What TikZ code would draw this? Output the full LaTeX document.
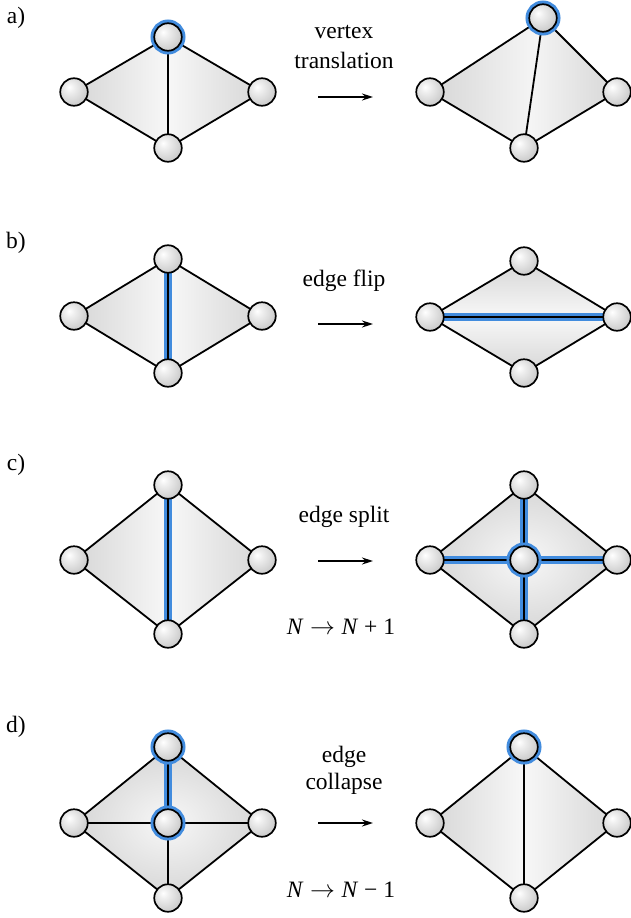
\documentclass[tikz,border=0pt]{standalone}
\usepackage{fontspec}
\setmainfont{Liberation Serif}
\usetikzlibrary{arrows.meta}
\definecolor{hblue}{RGB}{66,140,222}
\colorlet{gdark}{black!16}
\colorlet{glight}{black!3}
\pgfdeclareradialshading{vball}{\pgfpoint{-9bp}{9bp}}{color(0bp)=(white); color(8bp)=(black!6); color(30bp)=(black!20); color(50bp)=(black!30); color(80bp)=(black!34)}
\tikzset{
  vtx/.style={circle, minimum size=27.5pt, inner sep=0pt, draw=black, line width=1.7pt, shading=vball},
  hvtx/.style={vtx, preaction={draw=hblue, line width=7.5pt}},
  edge/.style={draw=black, line width=1.8pt, line cap=round, line join=round},
  hedge/.style={draw=black, line width=2.2pt, preaction={draw=hblue, line width=7.5pt}},
  lbl/.style={font=\fontsize{23.5}{27}\selectfont, inner sep=0pt},
  arr/.style={-{Stealth[length=11pt,width=7pt]}, line width=1.6pt},
}
\begin{document}
\begin{tikzpicture}[x=1pt,y=-1pt]
\useasboundingbox (0,0) rectangle (631,918);
% ---------- panel a ----------
\node[lbl] (la) at (16,18) {a)};
\coordinate (aLt) at (168,37); \coordinate (aLl) at (74,92); \coordinate (aLr) at (262,92); \coordinate (aLb) at (168,148);
\shade[left color=gdark, right color=gdark, middle color=glight] (aLt) -- (aLr) -- (aLb) -- (aLl) -- cycle;
\draw[edge] (aLt) -- (aLr) -- (aLb) -- (aLl) -- cycle (aLt) -- (aLb);
\node[hvtx] (naLt) at (aLt) {}; \node[vtx] (naLl) at (aLl) {}; \node[vtx] (naLr) at (aLr) {}; \node[vtx] (naLb) at (aLb) {};
\coordinate (aRt) at (543,18); \coordinate (aRl) at (430,92); \coordinate (aRr) at (617,92); \coordinate (aRb) at (524,148);
\shade[left color=gdark, right color=glight] (aRt) -- (aRb) -- (aRl) -- cycle;
\shade[left color=glight, right color=gdark] (aRt) -- (aRr) -- (aRb) -- cycle;
\draw[edge] (aRt) -- (aRr) -- (aRb) -- (aRl) -- cycle (aRt) -- (aRb);
\node[hvtx] (naRt) at (aRt) {}; \node[vtx] (naRl) at (aRl) {}; \node[vtx] (naRr) at (aRr) {}; \node[vtx] (naRb) at (aRb) {};
\node[lbl] (ta1) at (344,32) {vertex};
\node[lbl] (ta2) at (344,60) {translation};
\coordinate (aA1) at (318,97); \coordinate (aA2) at (373,97);
\draw[arr] (aA1) -- (aA2);
% ---------- panel b ----------
\node[lbl] (lb) at (16,243) {b)};
\coordinate (bLt) at (168,259); \coordinate (bLl) at (74,316); \coordinate (bLr) at (262,316); \coordinate (bLb) at (168,373);
\shade[left color=gdark, right color=gdark, middle color=glight] (bLt) -- (bLr) -- (bLb) -- (bLl) -- cycle;
\draw[edge] (bLt) -- (bLr) -- (bLb) -- (bLl) -- cycle;
\draw[hedge] (bLt) -- (bLb);
\node[vtx] (nbLt) at (bLt) {}; \node[vtx] (nbLl) at (bLl) {}; \node[vtx] (nbLr) at (bLr) {}; \node[vtx] (nbLb) at (bLb) {};
\coordinate (bRt) at (524,261); \coordinate (bRl) at (430,317); \coordinate (bRr) at (617,317); \coordinate (bRb) at (524,373);
\shade[top color=gdark, bottom color=gdark, middle color=glight] (bRt) -- (bRr) -- (bRb) -- (bRl) -- cycle;
\draw[edge] (bRt) -- (bRr) -- (bRb) -- (bRl) -- cycle;
\draw[hedge] (bRl) -- (bRr);
\node[vtx] (nbRt) at (bRt) {}; \node[vtx] (nbRl) at (bRl) {}; \node[vtx] (nbRr) at (bRr) {}; \node[vtx] (nbRb) at (bRb) {};
\node[lbl] (tb1) at (344,281) {edge flip};
\coordinate (bA1) at (318,324); \coordinate (bA2) at (373,324);
\draw[arr] (bA1) -- (bA2);
% ---------- panel c ----------
\node[lbl] (lc) at (16,465) {c)};
\coordinate (cLt) at (168,485); \coordinate (cLl) at (74,560); \coordinate (cLr) at (262,560); \coordinate (cLb) at (168,634);
\shade[left color=gdark, right color=gdark, middle color=glight] (cLt) -- (cLr) -- (cLb) -- (cLl) -- cycle;
\draw[edge] (cLt) -- (cLr) -- (cLb) -- (cLl) -- cycle;
\draw[hedge] (cLt) -- (cLb);
\node[vtx] (ncLt) at (cLt) {}; \node[vtx] (ncLl) at (cLl) {}; \node[vtx] (ncLr) at (cLr) {}; \node[vtx] (ncLb) at (cLb) {};
\coordinate (cRt) at (524,485); \coordinate (cRl) at (430,560); \coordinate (cRr) at (617,560); \coordinate (cRb) at (524,634); \coordinate (cRc) at (524,560);
\shade[inner color=glight, outer color=gdark] (cRt) -- (cRr) -- (cRb) -- (cRl) -- cycle;
\draw[edge] (cRt) -- (cRr) -- (cRb) -- (cRl) -- cycle;
\draw[hedge] (cRt) -- (cRb);
\draw[hedge] (cRl) -- (cRr);
\node[vtx] (ncRt) at (cRt) {}; \node[vtx] (ncRl) at (cRl) {}; \node[vtx] (ncRr) at (cRr) {}; \node[vtx] (ncRb) at (cRb) {};
\node[hvtx] (ncRc) at (cRc) {};
\node[lbl] (tc1) at (344,517) {edge split};
\coordinate (cA1) at (318,561); \coordinate (cA2) at (373,561);
\draw[arr] (cA1) -- (cA2);
\node[lbl] (tc2) at (341,627) {\textit{N}\;$\rightarrow$\;\textit{N} + 1};
% ---------- panel d ----------
\node[lbl] (ld) at (16,727) {d)};
\coordinate (dLt) at (168,747); \coordinate (dLl) at (74,823); \coordinate (dLr) at (262,823); \coordinate (dLb) at (168,898); \coordinate (dLc) at (168,823);
\shade[inner color=glight, outer color=gdark] (dLt) -- (dLr) -- (dLb) -- (dLl) -- cycle;
\draw[edge] (dLt) -- (dLr) -- (dLb) -- (dLl) -- cycle (dLl) -- (dLr) (dLc) -- (dLb);
\draw[hedge] (dLt) -- (dLc);
\node[hvtx] (ndLt) at (dLt) {}; \node[vtx] (ndLl) at (dLl) {}; \node[vtx] (ndLr) at (dLr) {}; \node[vtx] (ndLb) at (dLb) {};
\node[hvtx] (ndLc) at (dLc) {};
\coordinate (dRt) at (524,747); \coordinate (dRl) at (430,823); \coordinate (dRr) at (617,823); \coordinate (dRb) at (524,898);
\shade[left color=gdark, right color=gdark, middle color=glight] (dRt) -- (dRr) -- (dRb) -- (dRl) -- cycle;
\draw[edge] (dRt) -- (dRr) -- (dRb) -- (dRl) -- cycle (dRt) -- (dRb);
\node[hvtx] (ndRt) at (dRt) {}; \node[vtx] (ndRl) at (dRl) {}; \node[vtx] (ndRr) at (dRr) {}; \node[vtx] (ndRb) at (dRb) {};
\node[lbl] (td1) at (344,757) {edge};
\node[lbl] (td2) at (344,784) {collapse};
\coordinate (dA1) at (318,823); \coordinate (dA2) at (373,823);
\draw[arr] (dA1) -- (dA2);
\node[lbl] (td3) at (341,890) {\textit{N}\;$\rightarrow$\;\textit{N} − 1};
\end{tikzpicture}
\end{document}
